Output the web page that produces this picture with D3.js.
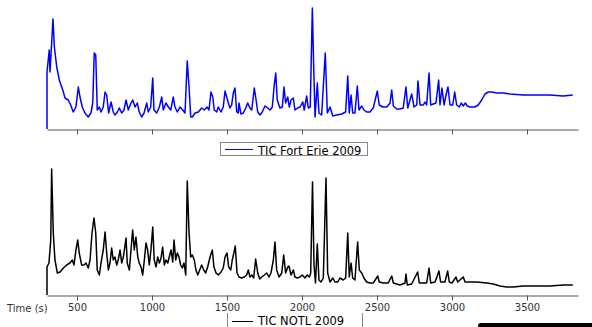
<!DOCTYPE html>
<html>
<head>
<meta charset="utf-8">
<script src="https://cdn.jsdelivr.net/npm/d3@7"></script>
<style>
  body { margin: 0; background: #fff; }
  svg { display: block; font-family: "DejaVu Sans", sans-serif; }
</style>
</head>
<body>
<div class="chart"></div>
<script>
// TIC traces, time (s) and intensity (arbitrary units)
const erieTime = [300, 300, 315, 320, 340, 349, 365, 382, 405, 420, 442, 458, 475, 493, 509, 520, 535, 553, 575, 593,
  605, 615, 625, 635, 649, 660, 675, 687, 698, 711, 727, 742, 753, 769, 782, 798, 813, 827, 842, 860,
  871, 887, 902, 915, 931, 947, 965, 975, 991, 1005, 1013, 1031, 1049, 1065, 1075, 1093, 1109, 1125, 1142, 1153,
  1169, 1187, 1205, 1220, 1235, 1247, 1258, 1269, 1287, 1309, 1331, 1349, 1367, 1380, 1393, 1405, 1415, 1431, 1442, 1460,
  1475, 1487, 1498, 1509, 1520, 1531, 1542, 1553, 1565, 1575, 1580, 1593, 1609, 1625, 1638, 1653, 1665, 1682, 1691, 1705,
  1720, 1735, 1753, 1771, 1787, 1802, 1815, 1825, 1835, 1853, 1869, 1880, 1891, 1905, 1915, 1927, 1942, 1953, 1971, 1987,
  2005, 2015, 2031, 2042, 2055, 2069, 2078, 2087, 2102, 2113, 2131, 2155, 2169, 2187, 2205, 2231, 2265, 2291, 2305, 2315,
  2327, 2338, 2353, 2369, 2380, 2398, 2413, 2431, 2453, 2475, 2502, 2515, 2538, 2565, 2587, 2598, 2609, 2631, 2653, 2675,
  2693, 2705, 2731, 2747, 2765, 2773, 2787, 2809, 2820, 2831, 2847, 2858, 2875, 2893, 2911, 2920, 2933, 2947, 2960, 2973,
  2987, 3005, 3018, 3031, 3049, 3062, 3075, 3089, 3102, 3120, 3153, 3175, 3198, 3220, 3242, 3265, 3298, 3342, 3387, 3475,
  3565, 3653, 3742, 3805];
const erieTic = [0, 57, 79, 57, 110, 82, 62, 49, 39, 31, 29, 24, 17, 22, 42, 32, 22, 16, 12, 16,
  26, 76, 74, 19, 22, 17, 22, 37, 34, 16, 27, 17, 14, 17, 21, 16, 19, 29, 19, 26,
  29, 22, 26, 17, 12, 16, 26, 17, 22, 51, 19, 16, 22, 32, 19, 26, 22, 19, 32, 22,
  17, 22, 19, 16, 68, 42, 12, 12, 16, 17, 21, 19, 22, 19, 37, 32, 19, 17, 22, 17,
  22, 38, 32, 26, 21, 24, 36, 41, 17, 16, 26, 15, 16, 21, 26, 21, 19, 41, 32, 17,
  14, 17, 23, 21, 19, 22, 44, 56, 29, 21, 22, 42, 26, 32, 22, 29, 31, 19, 21, 22,
  27, 19, 33, 21, 22, 121, 62, 12, 46, 16, 14, 76, 16, 22, 13, 14, 15, 17, 53, 16,
  34, 16, 16, 43, 19, 23, 19, 17, 17, 21, 38, 24, 22, 22, 26, 39, 23, 20, 20, 21,
  42, 21, 35, 22, 24, 48, 24, 24, 27, 24, 56, 24, 25, 26, 49, 24, 41, 24, 34, 42,
  24, 24, 37, 24, 22, 26, 23, 26, 23, 22, 22, 24, 29, 35, 37, 37, 36, 36, 35, 34,
  34, 34, 33, 34];

const notlTime = [300, 300, 313, 325, 331, 342, 353, 369, 387, 409, 431, 453, 469, 480, 493, 505, 515, 531, 547, 560,
  575, 587, 600, 613, 625, 635, 649, 660, 675, 687, 698, 709, 720, 731, 742, 753, 765, 775, 787, 798,
  809, 827, 835, 849, 860, 871, 882, 893, 905, 915, 927, 938, 949, 960, 971, 982, 993, 1005, 1015, 1027,
  1038, 1049, 1060, 1071, 1082, 1093, 1105, 1115, 1127, 1138, 1147, 1158, 1169, 1180, 1191, 1202, 1213, 1225, 1235, 1247,
  1258, 1269, 1282, 1293, 1305, 1318, 1331, 1345, 1358, 1371, 1382, 1391, 1402, 1413, 1427, 1442, 1460, 1475, 1487, 1500,
  1511, 1525, 1535, 1547, 1555, 1567, 1580, 1598, 1615, 1631, 1642, 1653, 1665, 1678, 1691, 1705, 1718, 1731, 1749, 1765,
  1780, 1793, 1809, 1820, 1831, 1847, 1865, 1878, 1891, 1905, 1913, 1927, 1942, 1953, 1969, 1987, 2002, 2020, 2035, 2049,
  2058, 2070, 2080, 2090, 2102, 2113, 2127, 2142, 2160, 2171, 2187, 2205, 2220, 2238, 2253, 2275, 2291, 2305, 2315, 2327,
  2338, 2353, 2371, 2382, 2398, 2413, 2431, 2453, 2475, 2505, 2515, 2542, 2575, 2598, 2609, 2653, 2687, 2693, 2702, 2731,
  2771, 2782, 2809, 2831, 2847, 2858, 2887, 2913, 2924, 2953, 2971, 2982, 3000, 3027, 3038, 3075, 3087, 3120, 3165, 3231,
  3275, 3320, 3365, 3409, 3475, 3565, 3653, 3742, 3805];
const notlTic = [0, 28, 32, 55, 126, 62, 35, 22, 23, 27, 30, 32, 35, 30, 45, 55, 42, 30, 30, 32,
  27, 35, 62, 77, 62, 25, 20, 32, 45, 63, 42, 25, 32, 47, 35, 38, 30, 35, 45, 32,
  38, 57, 32, 25, 45, 65, 45, 58, 38, 32, 28, 20, 35, 52, 45, 30, 45, 68, 35, 28,
  38, 32, 37, 48, 30, 35, 32, 38, 45, 33, 55, 35, 42, 38, 30, 27, 32, 20, 114, 62,
  38, 40, 35, 25, 20, 25, 30, 25, 22, 28, 35, 40, 45, 28, 22, 20, 23, 27, 38, 42,
  28, 25, 35, 43, 49, 22, 18, 17, 18, 20, 25, 18, 20, 17, 36, 22, 16, 18, 20, 22,
  18, 22, 35, 53, 25, 18, 22, 40, 22, 28, 29, 20, 25, 18, 17, 18, 20, 17, 20, 18,
  22, 113, 30, 12, 51, 15, 13, 17, 117, 22, 13, 17, 13, 13, 17, 15, 17, 62, 18, 32,
  17, 15, 53, 25, 22, 17, 13, 12, 12, 19, 13, 12, 12, 19, 12, 10, 12, 21, 10, 11,
  23, 12, 12, 12, 27, 12, 13, 24, 13, 13, 24, 13, 12, 18, 13, 18, 13, 13, 13, 12,
  11, 9, 8, 8, 9, 9, 9, 10, 10];

const timeTicks = [500, 1000, 1500, 2000, 2500, 3000, 3500];
const legendNames = ['TIC Fort Erie 2009', 'TIC NOTL 2009'];
const seriesColors = ['#0000ff', '#000000'];

const WIDTH = 592, HEIGHT = 327;
const svg = d3.select('.chart').append('svg')
  .attr('width', WIDTH)
  .attr('height', HEIGHT);

const xRange = d3.scaleLinear().domain([300, 3840]).range([47, 578]);
const yTop = d3.scaleLinear().domain([0, 125]).range([129, 4]);
const yBottom = d3.scaleLinear().domain([0, 130]).range([295, 165]);

function drawAxis(y0, labels) {
  const axis = d3.axisBottom(xRange)
    .tickValues(timeTicks)
    .tickSizeInner(5)
    .tickSizeOuter(0)
    .tickPadding(3)
    .tickFormat(labels ? d3.format('d') : '');
  const g = svg.append('g')
    .attr('transform', 'translate(0,' + y0 + ')')
    .call(axis);
  g.select('.domain').attr('stroke', '#555');
  g.selectAll('.tick line').attr('stroke', '#555');
  g.selectAll('.tick text')
    .style('font-family', '"DejaVu Sans", sans-serif')
    .style('font-size', '10px')
    .attr('fill', '#333');
  return g;
}

drawAxis(129.5, false);
drawAxis(295.5, true);

svg.append('text')
  .attr('x', 7)
  .attr('y', 312)
  .style('font-size', '10px')
  .attr('fill', '#333')
  .text('Time (s)');

const lineTop = d3.line()
  .x((d, i) => xRange(erieTime[i]))
  .y(d => yTop(d))
  .curve(d3.curveLinear);
const lineBottom = d3.line()
  .x((d, i) => xRange(notlTime[i]))
  .y(d => yBottom(d))
  .curve(d3.curveLinear);

svg.append('path')
  .attr('d', lineTop(erieTic))
  .attr('fill', 'none')
  .attr('stroke', seriesColors[0])
  .attr('stroke-width', 1.5)
  .attr('stroke-linejoin', 'round');

svg.append('path')
  .attr('d', lineBottom(notlTic))
  .attr('fill', 'none')
  .attr('stroke', seriesColors[1])
  .attr('stroke-width', 1.5)
  .attr('stroke-linejoin', 'round');

// legend for the Fort Erie trace
svg.append('rect')
  .attr('x', 220.5)
  .attr('y', 142.5)
  .attr('width', 147)
  .attr('height', 13)
  .attr('fill', 'none')
  .attr('stroke', '#888');
svg.append('line')
  .attr('x1', 225).attr('x2', 253)
  .attr('y1', 149.5).attr('y2', 149.5)
  .attr('stroke', seriesColors[0]);
svg.append('text')
  .attr('x', 258)
  .attr('y', 154.5)
  .style('font-size', '11.5px')
  .attr('fill', '#000')
  .text(legendNames[0]);

// legend for the NOTL trace (cut off by the bottom edge)
svg.append('path')
  .attr('d', 'M227.5,327V313M362.5,327V313')
  .attr('fill', 'none')
  .attr('stroke', '#888');
svg.append('line')
  .attr('x1', 232).attr('x2', 253)
  .attr('y1', 321.5).attr('y2', 321.5)
  .attr('stroke', seriesColors[1]);
svg.append('text')
  .attr('x', 258)
  .attr('y', 325)
  .style('font-size', '11.5px')
  .attr('fill', '#000')
  .text(legendNames[1]);

svg.append('rect')
  .attr('x', 478)
  .attr('y', 323)
  .attr('width', 130)
  .attr('height', 12)
  .attr('rx', 3)
  .attr('fill', '#000');
</script>
</body>
</html>
